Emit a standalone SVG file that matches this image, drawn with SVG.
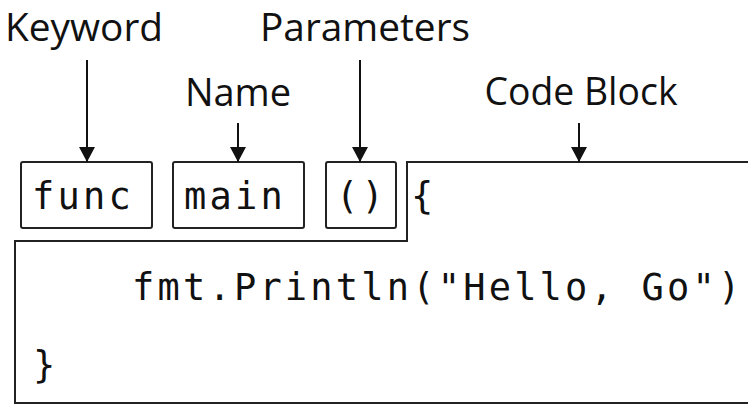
<svg xmlns="http://www.w3.org/2000/svg" width="748" height="405" viewBox="0 0 748 405">
  <style>
    .label { font-family: "Open Sans", "Noto Sans", sans-serif; font-size: 38px; fill: #111; }
    .code { font-family: "DejaVu Sans Mono", "Liberation Mono", monospace; font-size: 37px; letter-spacing: 3.2px; fill: #111; }
    .box { fill: #fff; stroke: #222; stroke-width: 2; }
    .conn { stroke: #111; stroke-width: 2; fill: none; }
  </style>
  <defs>
    <marker id="arrowhead" markerUnits="userSpaceOnUse" markerWidth="16" markerHeight="16" refX="15" refY="8" orient="auto">
      <path d="M0,0 L15,8 L0,16 Z" fill="#111"/>
    </marker>
  </defs>
  <rect width="748" height="405" fill="#fff"/>

  <!-- labels -->
  <g id="label-keyword"><text class="label" x="5" y="41" textLength="158" lengthAdjust="spacingAndGlyphs">Keyword</text></g>
  <g id="label-parameters"><text class="label" x="260" y="41" textLength="210" lengthAdjust="spacingAndGlyphs">Parameters</text></g>
  <g id="label-name"><text class="label" x="238" y="106" text-anchor="middle">Name</text></g>
  <g id="label-codeblock"><text class="label" x="581" y="105" text-anchor="middle" textLength="193" lengthAdjust="spacingAndGlyphs">Code Block</text></g>

  <!-- code block outline (open on the right) -->
  <g id="code-block">
    <path class="box" d="M749,162 H407 V241 H15 V403 H749"/>
    <text class="code" x="411" y="209">{</text>
    <text class="code" x="132" y="300">fmt.Println("Hello, Go")</text>
    <text class="code" x="33" y="378">}</text>
  </g>

  <!-- keyword box -->
  <g id="node-func">
    <rect class="box" x="21" y="162" width="131" height="66" rx="2"/>
    <text class="code" x="32" y="209">func</text>
  </g>

  <!-- name box -->
  <g id="node-main">
    <rect class="box" x="173" y="162" width="131" height="66" rx="2"/>
    <text class="code" x="184" y="209">main</text>
  </g>

  <!-- parameters box -->
  <g id="node-params">
    <rect class="box" x="326" y="162" width="70" height="66" rx="2"/>
    <text class="code" x="336" y="209">()</text>
  </g>

  <!-- connectors -->
  <g id="connectors">
    <line class="conn" x1="87" y1="60" x2="87" y2="162" marker-end="url(#arrowhead)"/>
    <line class="conn" x1="238" y1="123" x2="238" y2="162" marker-end="url(#arrowhead)"/>
    <line class="conn" x1="360" y1="60" x2="360" y2="162" marker-end="url(#arrowhead)"/>
    <line class="conn" x1="579" y1="123" x2="579" y2="162" marker-end="url(#arrowhead)"/>
  </g>
</svg>
